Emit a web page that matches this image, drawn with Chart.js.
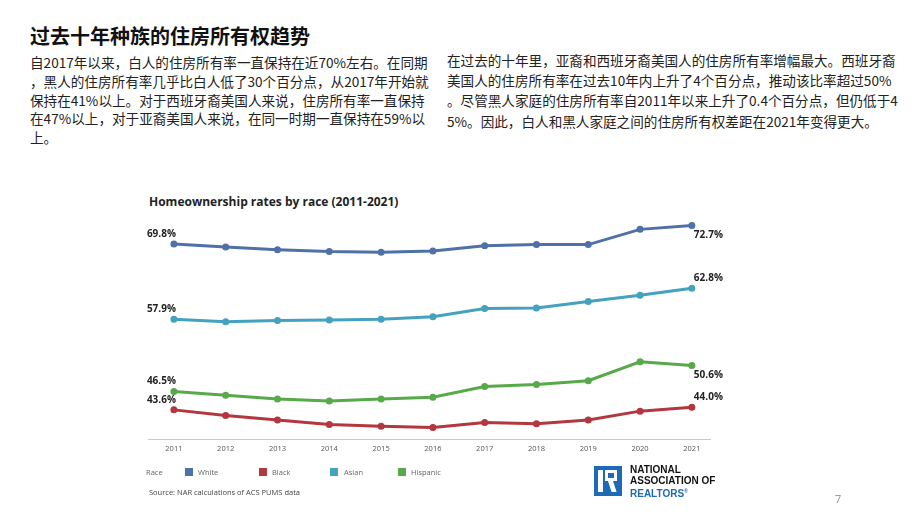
<!DOCTYPE html>
<html><head><meta charset="utf-8">
<script src="https://cdn.jsdelivr.net/npm/chart.js@4.4.1/dist/chart.umd.min.js"></script>
<style>
html,body{margin:0;padding:0;background:#fff;}
body{width:920px;height:518px;position:relative;overflow:hidden;font-family:"Noto Sans CJK SC","Noto Sans",sans-serif;}
.ab{position:absolute;white-space:nowrap;}
#title{left:30px;top:22px;font-size:20px;font-weight:bold;color:#111;line-height:28px;}
.p{font-size:13.6px;color:#222;}
#c1 div{height:18.8px;line-height:18.8px;}
#c2 div{height:20.2px;line-height:20.2px;}
#ctitle{left:149px;top:193px;font-family:"Open Sans",sans-serif;font-weight:bold;font-size:12px;color:#222;}
#legend{left:146px;top:466px;font-family:"Open Sans",sans-serif;font-size:7.5px;color:#666;}
#legend span{position:absolute;top:0;line-height:12px;}
#legend i{position:absolute;top:2px;width:8px;height:8px;}
#src{left:149px;top:487px;font-family:"Open Sans",sans-serif;font-size:7.5px;color:#444;}
#logo{left:594px;top:466px;width:28px;height:30px;background:#1f6ab5;}
#logotext{left:630px;top:464px;font-family:"Liberation Sans",Arial,sans-serif;font-weight:bold;font-size:10px;line-height:11px;color:#111;}
#pg{left:835px;top:491px;font-size:11px;color:#999;font-family:"Noto Sans",sans-serif;}
</style></head>
<body>
<div id="title" class="ab">过去十年种族的住房所有权趋势</div>
<div id="c1" class="ab p" style="left:30px;top:53px;">
<div>自2017年以来，白人的住房所有率一直保持在近70%左右。在同期</div>
<div>，黑人的住房所有率几乎比白人低了30个百分点，从2017年开始就</div>
<div>保持在41%以上。对于西班牙裔美国人来说，住房所有率一直保持</div>
<div>在47%以上，对于亚裔美国人来说，在同一时期一直保持在59%以</div>
<div>上。</div>
</div>
<div id="c2" class="ab p" style="left:447px;top:50px;">
<div>在过去的十年里，亚裔和西班牙裔美国人的住房所有率增幅最大。西班牙裔</div>
<div>美国人的住房所有率在过去10年内上升了4个百分点，推动该比率超过50%</div>
<div>。尽管黑人家庭的住房所有率自2011年以来上升了0.4个百分点，但仍低于4</div>
<div>5%。因此，白人和黑人家庭之间的住房所有权差距在2021年变得更大。</div>
</div>
<div id="ctitle" class="ab">Homeownership rates by race (2011-2021)</div>
<canvas id="chart" width="920" height="290" style="position:absolute;left:0;top:180px;width:920px;height:290px;"></canvas>
<div id="legend" class="ab"></div>
<div id="src" class="ab">Source: NAR calculations of ACS PUMS data</div>
<div id="logo" class="ab">
  <div style="position:absolute;left:4px;top:4px;width:5px;height:22px;background:#fff;"></div>
  <div style="position:absolute;left:11px;top:4px;width:12px;height:11px;background:#fff;"></div>
  <div style="position:absolute;left:14px;top:7px;width:6px;height:5px;background:#1f6ab5;"></div>
  <div style="position:absolute;left:14px;top:15px;width:5px;height:11px;background:#fff;transform:skewX(18deg);transform-origin:top left;"></div>
</div>
<div id="logotext" class="ab">NATIONAL<br>ASSOCIATION OF<br><span style="color:#1f6ab5">REALTORS<sup style="font-size:5px">®</sup></span></div>
<div id="pg" class="ab">7</div>
<script>
const years = [2011,2012,2013,2014,2015,2016,2017,2018,2019,2020,2021];
const white    = [69.8,69.3,68.9,68.6,68.5,68.7,69.5,69.7,69.7,72.1,72.7];
const black    = [43.6,42.7,42.0,41.3,41.0,40.8,41.6,41.4,42.0,43.4,44.0];
const asian    = [57.9,57.5,57.7,57.8,57.9,58.3,59.6,59.7,60.7,61.7,62.8];
const hispanic = [46.5,45.9,45.3,45.0,45.3,45.6,47.3,47.6,48.2,51.2,50.6];
const seriesNames = ['White','Black','Asian','Hispanic'];
const seriesColors = ['#4f71a8','#b2373e','#44a2bf','#58a94a'];
// label placement for [first, last] point: -1 above, 1 below
const labelSide = [[-1,1],[-1,-1],[-1,-1],[-1,1]];

const allSeries = [white, black, asian, hispanic];
const datasets = allSeries.map((vals,i)=>({
  label: seriesNames[i],
  data: vals.map((v,j)=>({x:years[j], y:v})),
  borderColor: seriesColors[i],
  backgroundColor: seriesColors[i],
  borderWidth: 3,
  pointRadius: 2,
  pointHoverRadius: 2,
  tension: 0
}));

const endLabels = {
  id:'endLabels',
  afterDatasetsDraw(chart){
    const ctx = chart.ctx;
    ctx.save();
    ctx.font = 'bold 10px "Open Sans", sans-serif';
    ctx.fillStyle = '#222';
    ctx.textBaseline = 'middle';
    chart.data.datasets.forEach((ds,i)=>{
      const meta = chart.getDatasetMeta(i);
      const first = meta.data[0], last = meta.data[meta.data.length-1];
      const v0 = ds.data[0].y, v1 = ds.data[ds.data.length-1].y;
      ctx.textAlign = 'left';
      ctx.fillText(v0.toFixed(1)+'%', first.x-27, first.y + labelSide[i][0]*10);
      ctx.fillText(v1.toFixed(1)+'%', last.x+2, last.y + labelSide[i][1]*10);
    });
    ctx.restore();
  }
};

const canvas = document.getElementById('chart');
new Chart(canvas, {
  type:'line',
  data:{datasets},
  options:{
    responsive:false,
    animation:false,
    devicePixelRatio:1,
    layout:{padding:{left:148,right:210,top:31,bottom:12}},
    plugins:{legend:{display:false},tooltip:{enabled:false},title:{display:false}},
    scales:{
      x:{type:'linear',min:2010.5,max:2021.35,
        afterBuildTicks(axis){axis.ticks = years.map(v=>({value:v}));},
        grid:{display:false,drawTicks:false},
        border:{display:true,dash:[3,3],color:'#c8c8c8',width:1},
        ticks:{padding:5,color:'#555',font:{size:7.5,family:'"Open Sans", sans-serif'},
          callback:v=>String(v),maxRotation:0,autoSkip:false}
      },
      y:{display:false,min:39,max:75}
    }
  },
  plugins:[endLabels]
});
// legend
const lg = document.getElementById('legend');
const pos = [[39,52],[113,126],[184,198],[252,265]];
let html = '<span style="left:0">Race</span>';
seriesNames.forEach((n,i)=>{
  html += `<i style="left:${pos[i][0]}px;background:${seriesColors[i]}"></i><span style="left:${pos[i][1]}px">${n}</span>`;
});
lg.innerHTML = html;
</script>
</body></html>
